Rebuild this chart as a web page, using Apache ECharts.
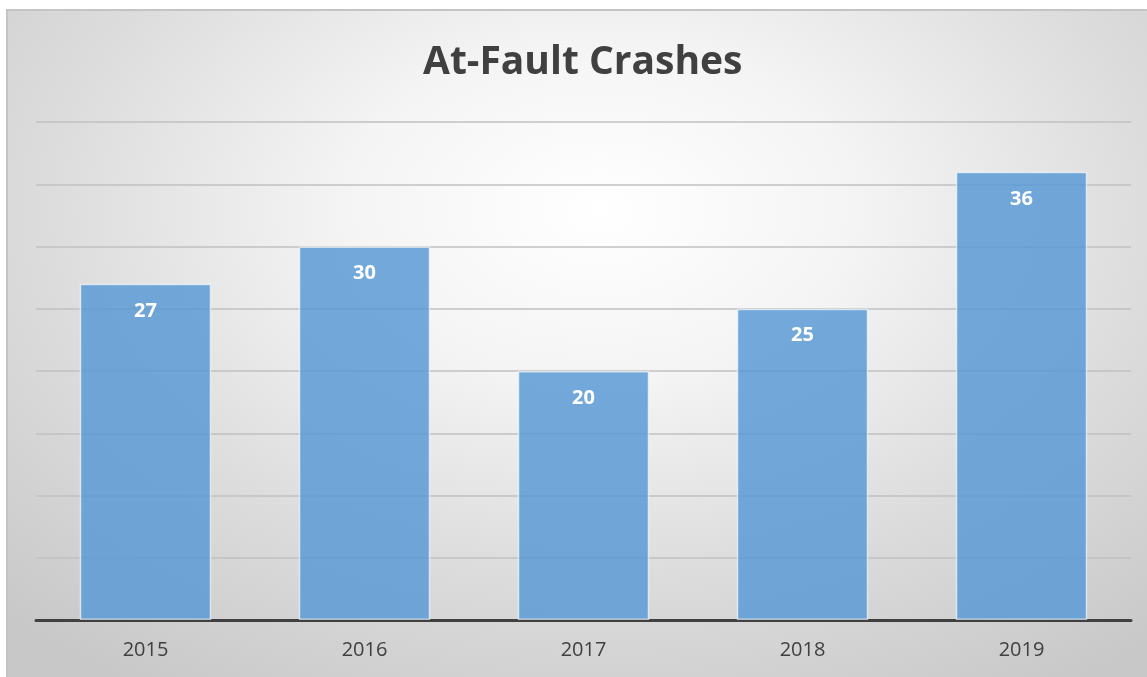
<!DOCTYPE html>
<html>
<head>
<meta charset="utf-8">
<title>At-Fault Crashes</title>
<script src="https://cdn.jsdelivr.net/npm/echarts@6/dist/echarts.min.js"></script>
<style>
  html, body { margin: 0; padding: 0; background: #fff; }
  #frame {
    position: absolute;
    left: 6px; top: 9px;
    width: 1141px; height: 668px;
    box-sizing: border-box;
    border-left: 2px solid #c4c4c4;
    border-top: 2px solid #c4c4c4;
    background: radial-gradient(ellipse 75% 85% at 52% 30%, #ffffff 0%, #f4f4f4 30%, #dcdcdc 65%, #c8c8c8 100%);
  }
  #chart { width: 100%; height: 100%; }
</style>
</head>
<body>
<div id="frame"><div id="chart"></div></div>
<script>
// chart data
const years = ["2015", "2016", "2017", "2018", "2019"];
const crashes = [27, 30, 20, 25, 36];
const chartTitle = "At-Fault Crashes";

const chart = echarts.init(document.getElementById("chart"));

chart.setOption({
  backgroundColor: "transparent",
  animation: false,
  title: {
    text: chartTitle,
    left: 410,
    top: 27,
    textStyle: {
      fontFamily: "Open Sans",
      fontWeight: "bold",
      fontSize: 39,
      color: "#404040",
    },
  },
  grid: {
    left: 28,
    right: 16,
    top: 111,
    bottom: 57,
  },
  xAxis: {
    type: "category",
    data: years,
    axisLine: { lineStyle: { color: "#404040", width: 3 } },
    axisTick: { show: false },
    axisLabel: {
      fontFamily: "Open Sans",
      fontSize: 20,
      color: "#404040",
      margin: 20,
    },
  },
  yAxis: {
    type: "value",
    min: 0,
    max: 40,
    interval: 5,
    axisLabel: { show: false },
    axisLine: { show: false },
    axisTick: { show: false },
    splitLine: { lineStyle: { color: "#c0c0c0", width: 1.5 } },
  },
  series: [
    {
      name: "At-Fault Crashes",
      type: "bar",
      data: crashes,
      barWidth: "60%",
      itemStyle: {
        color: "rgba(91,155,213,0.85)",
        borderColor: "rgba(255,255,255,0.6)",
        borderWidth: 1.5,
      },
      label: {
        show: true,
        position: "insideTop",
        distance: 17,
        fontFamily: "Open Sans",
        fontWeight: "bold",
        fontSize: 20,
        color: "#ffffff",
      },
    },
  ],
});
</script>
</body>
</html>
